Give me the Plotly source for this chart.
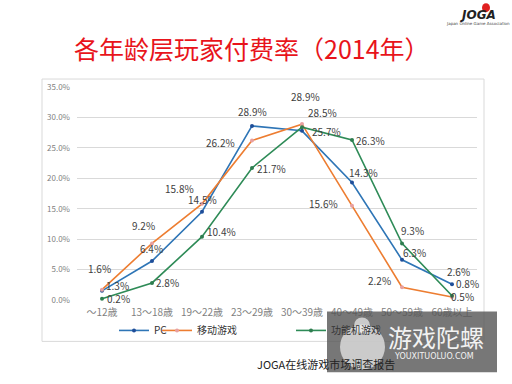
import plotly.graph_objects as go

categories = ["～12歳", "13～18歳", "19～22歳", "23～29歳", "30～39歳", "40～49歳", "50～59歳", "60歳以上"]
series_names = ["PC", "移动游戏", "功能机游戏"]
pc_values = [1.5, 6.4, 14.5, 28.6, 27.8, 19.3, 6.6, 2.6]
mobile_values = [1.7, 9.3, 15.8, 26.2, 28.9, 15.5, 2.1, 0.5]
feature_values = [0.2, 2.8, 10.4, 21.7, 28.4, 26.3, 9.3, 0.7]
pc_labels = ["1.3%", "6.4%", "14.5%", "28.9%", "25.7%", "14.3%", "6.3%", "2.6%"]
mobile_labels = ["1.6%", "9.2%", "15.8%", "26.2%", "28.9%", "15.6%", "2.2%", "0.5%"]
feature_labels = ["0.2%", "2.8%", "10.4%", "21.7%", "28.5%", "26.3%", "9.3%", "0.8%"]
y_ticks = [0, 5, 10, 15, 20, 25, 30, 35]

# styles (label offsets in px)
pc_off = [(15, 5), (-1, 13), (0, 12), (0, 14), (24, -1), (11, 10), (12, 7), (6, 13)]
mo_off = [(-3, 21), (-9, 18), (-23, 15), (-32, -2), (3, 28), (-29, 2), (-23, 7), (10, 0)]
fe_off = [(16, 0), (15, 0), (19, 5), (19, -1), (20, 15), (18, -1), (10, 13), (15, 12)]

L, R, T, B = 77, 477, 87, 300.5
def px(x):
    return (x - L) / (R - L)
def py(y):
    return (B - y) / (B - T)

FONT = "Noto Sans CJK JP, Noto Sans CJK SC, sans-serif"
fig = go.Figure()
styles = [
    (pc_values, "#2e75b6", "#1f4e99", "legend"),
    (mobile_values, "#ed7d31", "#e8a0a0", "legend2"),
    (feature_values, "#2e8b57", "#2e7d4f", "legend3"),
]
for name, (vals, lc, mc, lg) in zip(series_names, styles):
    fig.add_trace(go.Scatter(
        x=categories, y=vals, name=name, mode="lines+markers",
        line=dict(color=lc, width=1.6), marker=dict(color=mc, size=4),
        legend=lg, cliponaxis=False,
    ))

annotations = []
for vals, labs, offs in [(pc_values, pc_labels, pc_off), (mobile_values, mobile_labels, mo_off), (feature_values, feature_labels, fe_off)]:
    for c, v, t, (dx, dy) in zip(categories, vals, labs, offs):
        annotations.append(dict(x=c, y=v, xref="x", yref="y", text=t, showarrow=False,
                                xanchor="center", yanchor="middle",
                                xshift=dx, yshift=dy, font=dict(size=10, color="#404040", family=FONT)))

def ann(x, y, text, size, color, family=FONT):
    return dict(x=px(x), y=py(y), xref="paper", yref="paper", text=text, showarrow=False,
                xanchor="center", yanchor="middle", font=dict(size=size, color=color, family=family))

annotations += [
    ann(252, 48, "各年龄层玩家付费率（2014年）", 25, "#e8141b"),
    ann(326, 365, "JOGA在线游戏市场调查报告", 11, "#222222"),
    ann(478, 15, "<b><i>JOGA</i></b>", 12, "#222222", "DejaVu Sans"),
    ann(478, 23, "Japan Online Game Association", 4, "#444444", "DejaVu Sans"),
    ann(436, 337, "游戏陀螺", 24, "#f2f2f2"),
    ann(434, 357, "YOUXITUOLUO.COM", 8, "#f2f2f2", "DejaVu Sans"),
]

shapes = [
    dict(type="rect", xref="paper", yref="paper", x0=px(42), x1=px(484), y0=py(342), y1=py(79),
         line=dict(color="#d9d9d9", width=1), fillcolor="rgba(0,0,0,0)", layer="below"),
    dict(type="circle", xref="paper", yref="paper", x0=px(482), x1=px(490), y0=py(12), y1=py(3),
         line=dict(width=0), fillcolor="#e02020"),
    dict(type="rect", xref="paper", yref="paper", x0=px(327), x1=px(497), y0=py(373), y1=py(312),
         line=dict(width=0), fillcolor="rgba(85,85,85,0.8)", layer="above"),
    dict(type="circle", xref="paper", yref="paper", x0=px(340), x1=px(385), y0=py(370), y1=py(325),
         line=dict(width=0), fillcolor="rgba(240,240,240,0.7)", layer="above"),
    dict(type="circle", xref="paper", yref="paper", x0=px(354), x1=px(370), y0=py(334), y1=py(318),
         line=dict(width=0), fillcolor="rgba(240,240,240,0.7)", layer="above"),
]

leg_common = dict(orientation="h", xanchor="left", yanchor="middle", bgcolor="rgba(0,0,0,0)",
                  font=dict(size=10, color="#333333", family=FONT), itemwidth=30)
fig.update_layout(
    width=512, height=384, autosize=False,
    margin=dict(l=L, r=512 - R, t=T, b=384 - B),
    paper_bgcolor="white", plot_bgcolor="white",
    xaxis=dict(range=[-0.5, 7.5], showgrid=False, showline=False, ticks="",
               tickfont=dict(size=10, color="#7f7f7f", family=FONT), ticklabelstandoff=5),
    yaxis=dict(range=[0, 35], tickvals=y_ticks, ticktext=[f"{v:.1f}%" for v in y_ticks],
               showgrid=True, gridcolor="#d9d9d9", gridwidth=1, zeroline=False, showline=False,
               tickfont=dict(size=8, color="#7f7f7f", family=FONT), ticklabelstandoff=6),
    legend=dict(x=px(114), y=py(331), **leg_common),
    legend2=dict(x=px(157), y=py(331), **leg_common),
    legend3=dict(x=px(291), y=py(331), **leg_common),
    annotations=annotations, shapes=shapes, showlegend=True,
)
fig.write_html("out.html", config={"displayModeBar": False},
               post_script="document.body.style.margin='0';document.body.style.overflow='hidden';")
